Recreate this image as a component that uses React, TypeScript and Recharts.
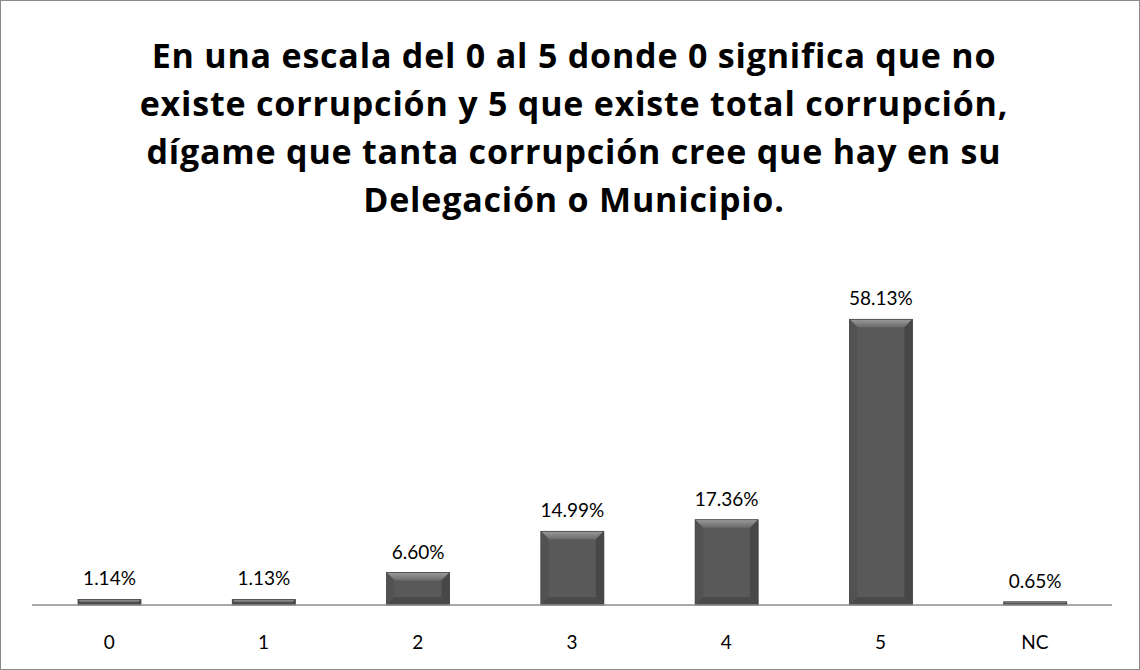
import React from 'react';
import { BarChart, Bar, XAxis, YAxis, LabelList } from 'recharts';

const categories = ['0', '1', '2', '3', '4', '5', 'NC'];
const percentages = [1.14, 1.13, 6.6, 14.99, 17.36, 58.13, 0.65];

const titleLines = [
  'En una escala del 0 al 5 donde 0 significa que no',
  'existe corrupción y 5 que existe total corrupción,',
  'dígame que tanta corrupción cree que hay en su',
  'Delegación o Municipio.',
];

const chartData = categories.map((name, i) => ({ name, value: percentages[i] }));

const BevelBar = (props: any) => {
  const { x, y, width, height } = props;
  if (!height || height <= 0) return null;
  const b = Math.min(8, height / 2, width / 2);
  return (
    <g>
      <rect x={x} y={y} width={width} height={height} fill="#595959" />
      <polygon
        points={`${x},${y} ${x + width},${y} ${x + width - b},${y + b} ${x + b},${y + b}`}
        fill="url(#bevelTop)"
      />
      <polygon
        points={`${x},${y} ${x + b},${y + b} ${x + b},${y + height - b} ${x},${y + height}`}
        fill="#525252"
      />
      <polygon
        points={`${x + width},${y} ${x + width - b},${y + b} ${x + width - b},${y + height - b} ${x + width},${y + height}`}
        fill="#474747"
      />
      <polygon
        points={`${x},${y + height} ${x + b},${y + height - b} ${x + width - b},${y + height - b} ${x + width},${y + height}`}
        fill="#4a4a4a"
      />
      <rect x={x} y={y} width={width} height={height} fill="none" stroke="#444" strokeWidth={0.8} />
    </g>
  );
};

const App: React.FC = () => {
  return (
    <div
      style={{
        position: 'absolute',
        left: 0,
        top: 0,
        width: 1140,
        height: 670,
        background: '#fff',
        fontFamily: 'Lato, "Open Sans", sans-serif',
      }}
    >
      <div
        style={{
          position: 'absolute',
          left: 0,
          top: 0,
          width: 1138,
          height: 668,
          border: '1px solid #8a8a8a',
        }}
      />
      <div
        style={{
          position: 'absolute',
          left: 0,
          top: 31,
          width: 1148,
          textAlign: 'center',
          fontFamily: '"Open Sans", sans-serif',
          fontWeight: 700,
          fontSize: 34,
          letterSpacing: 0.8,
          lineHeight: '48px',
          color: '#000',
        }}
      >
        {titleLines.map((line) => (
          <div key={line}>{line}</div>
        ))}
      </div>
      <div style={{ position: 'absolute', left: 0, top: 0 }}>
        <BarChart
          width={1140}
          height={670}
          data={chartData}
          margin={{ top: 261, right: 28, bottom: 15, left: 32 }}
          barSize={63}
        >
          <defs>
            <linearGradient id="bevelTop" x1="0" y1="0" x2="0" y2="1">
              <stop offset="0%" stopColor="#9a9a9a" />
              <stop offset="100%" stopColor="#6a6a6a" />
            </linearGradient>
          </defs>
          <XAxis
            dataKey="name"
            height={50}
            tickLine={false}
            tickSize={0}
            tickMargin={31}
            axisLine={{ stroke: '#8c8c8c', strokeWidth: 1.5 }}
            tick={{ fill: '#000', fontSize: 19, fontFamily: 'Lato, "Open Sans", sans-serif' }}
          />
          <YAxis hide domain={[0, 70]} />
          <Bar dataKey="value" shape={BevelBar} isAnimationActive={false}>
            <LabelList
              dataKey="value"
              position="top"
              offset={14}
              formatter={(v: any) => `${Number(v).toFixed(2)}%`}
              style={{ fill: '#000', fontSize: 19, fontFamily: 'Lato, "Open Sans", sans-serif' }}
            />
          </Bar>
        </BarChart>
      </div>
    </div>
  );
};

export default App;
